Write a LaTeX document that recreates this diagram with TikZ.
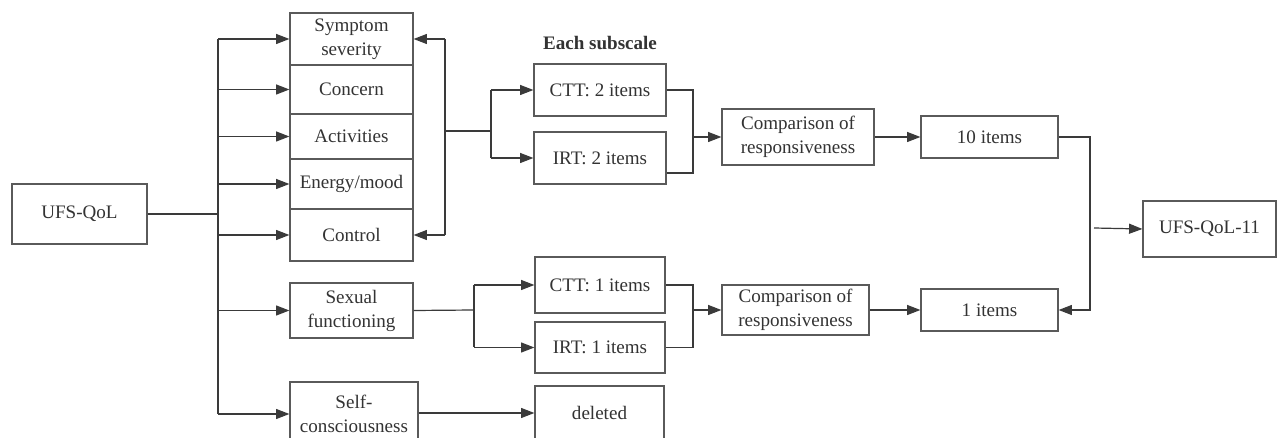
\documentclass[tikz,border=0pt]{standalone}
\usepackage{fontspec}
\setmainfont{Liberation Serif}
\usetikzlibrary{arrows.meta,calc}
\definecolor{edgegray}{HTML}{5A5A5A}
\definecolor{linegray}{HTML}{3A3A3A}
\definecolor{txtgray}{HTML}{333333}
\tikzset{
  box/.style={draw=edgegray, line width=0.9pt, inner sep=0pt, align=center,
    text=txtgray, font=\fontsize{14.3}{18}\selectfont},
  conn/.style={draw=linegray, line width=0.9pt},
  arr/.style={conn, -{Triangle[length=10pt,width=7.5pt]}},
  lbl/.style={text=txtgray, font=\fontsize{14.3}{18}\selectfont\bfseries}
}
\newcommand\bx[6]{\node[box, minimum width={(#4-#2)*0.75pt}, minimum height={(#5-#3)*0.75pt}] (#1) at ({(#2+#4)/2},{(#3+#5)/2}) {#6};}
\begin{document}
\begin{tikzpicture}[x=0.75pt,y=-0.75pt]
\useasboundingbox (0,0) rectangle (1279,438);
\clip (0,0) rectangle (1279,438);
\fill[white] (0,0) rectangle (1279,438);
% boxes
\bx{ufs}{12}{184}{147}{244}{UFS-QoL}
\bx{sym}{290}{13}{413}{65}{Symptom\\severity}
\bx{con}{290}{65}{413}{114}{Concern}
\bx{act}{290}{114}{413}{159}{Activities}
\bx{ene}{290}{159}{413}{209}{Energy/mood}
\bx{ctl}{290}{209}{413}{261}{Control}
\bx{sex}{290}{283}{413}{338}{Sexual\\functioning}
\bx{self}{290}{382}{418}{446}{Self-\\consciousness}
\bx{ctta}{534}{64}{666}{116}{CTT: 2 items}
\bx{irta}{534}{132}{666}{184}{IRT: 2 items}
\bx{cmpa}{722}{109}{874}{165}{Comparison of\\responsiveness}
\bx{ten}{921}{116}{1058}{158}{10 items}
\bx{cttb}{535}{257}{665}{313}{CTT: 1 items}
\bx{irtb}{535}{322}{665}{373}{IRT: 1 items}
\bx{cmpb}{722}{285}{869}{335}{Comparison of\\responsiveness}
\bx{one}{921}{289}{1058}{331}{1 items}
\bx{del}{535}{386}{664}{440}{deleted}
\bx{fin}{1143}{201}{1276}{257}{UFS-QoL-11}
\node[lbl] (each) at (600,43) {Each subscale};
% trunk from UFS-QoL
\coordinate (t) at (218,214);
\draw[conn] (ufs.east) -- (t);
\draw[conn] (t |- sym.west) -- (t |- self.west);
\foreach \n in {sym,con,act,ene,ctl,sex,self}
  \draw[arr] (t |- \n.west) -- (\n.west);
% right bracket
\coordinate (b) at (445,131);
\coordinate (sa) at (491,131);
\draw[conn] (b |- sym.east) -- (b |- ctl.east);
\draw[arr] (b |- sym.east) -- (sym.east);
\draw[arr] (b |- ctl.east) -- (ctl.east);
\draw[conn] (b) -- (sa);
\draw[conn] (sa |- ctta.west) -- (sa |- irta.west);
\draw[arr] (sa |- ctta.west) -- (ctta.west);
\draw[arr] (sa |- irta.west) -- (irta.west);
\coordinate (ma) at (693,137);
\draw[conn] (ctta.east) -| (ma);
\draw[conn] ([yshift=-11.25pt]irta.east) -| (ma);
\draw[arr] (ma) -- (cmpa.west);
\draw[arr] (cmpa.east) -- (ten.west);
% sexual functioning branch
\coordinate (sb) at (474,310);
\draw[conn] (sex.east) -- (sb);
\draw[conn] (sb |- cttb.west) -- (sb |- irtb.west);
\draw[arr] (sb |- cttb.west) -- (cttb.west);
\draw[arr] (sb |- irtb.west) -- (irtb.west);
\coordinate (mb) at (693,310);
\draw[conn] (cttb.east) -| (mb);
\draw[conn] (irtb.east) -| (mb);
\draw[arr] (mb) -- (cmpb.west);
\draw[arr] (cmpb.east) -- (one.west);
% self-consciousness
\draw[arr] (self.east |- del.west) -- (del.west);
% right side
\coordinate (r) at (1090,228);
\coordinate (r2) at (1094,228);
\draw[conn] (ten.east) -| (r);
\draw[arr] (r) |- (one.east);
\draw[arr] (r2) -- (fin.west);
\end{tikzpicture}
\end{document}
